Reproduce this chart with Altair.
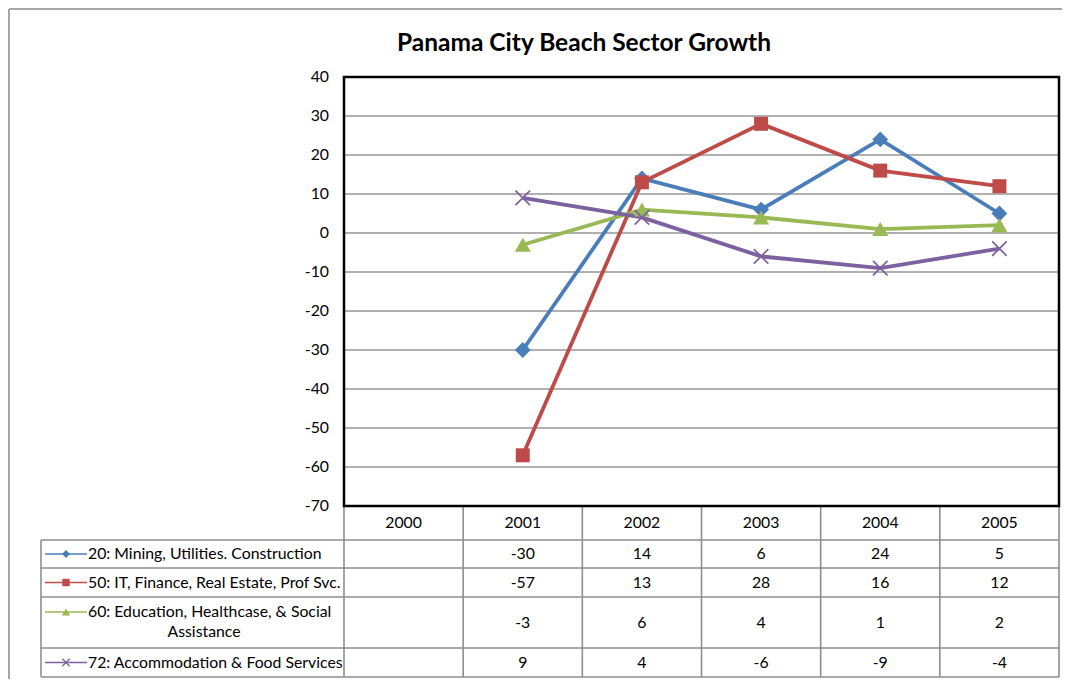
import altair as alt
import pandas as pd

# ---------------- data ----------------
years = [2000, 2001, 2002, 2003, 2004, 2005]
series_names = [
    "20: Mining, Utilities. Construction",
    "50: IT, Finance, Real Estate, Prof Svc.",
    "60: Education, Healthcase, & Social Assistance",
    "72: Accommodation & Food Services",
]
mining = [None, -30, 14, 6, 24, 5]
it_finance = [None, -57, 13, 28, 16, 12]
education = [None, -3, 6, 4, 1, 2]
accommodation = [None, 9, 4, -6, -9, -4]
y_ticks = [40, 30, 20, 10, 0, -10, -20, -30, -40, -50, -60, -70]
title_text = "Panama City Beach Sector Growth"

series_values = [mining, it_finance, education, accommodation]
colors = ["#4A7EBB", "#BE4B48", "#98B954", "#7D60A0"]
XSHAPE = "M-1,-1L1,1M-1,1L1,-1"
shapes = ["diamond", "square", "triangle-up", XSHAPE]
filled = [True, True, True, False]
big_sizes = [250, 195, 260, 210]
small_sizes = [64, 55, 70, 55]

# ---------------- layout (page pixels -> data units) ----------------
W, H = 1054, 671
PLOT_L, PLOT_R = 344, 1059
PLOT_T, PLOT_B = 77, 506
Y_MAX, Y_MIN = 40, -70
COL_W = (PLOT_R - PLOT_L) / 6
PX_PER = (PLOT_B - PLOT_T) / (Y_MAX - Y_MIN)


def u(px):
    return (px - PLOT_L) / COL_W


def v(py):
    return Y_MAX - (py - PLOT_T) / PX_PER


xdom = [u(8), u(8 + W)]
ydom = [v(8 + H), v(8)]
XS = alt.Scale(domain=xdom, nice=False, zero=False)
YS = alt.Scale(domain=ydom, nice=False, zero=False)

FONT = "Lato"
TXT = 15.8

# table geometry
row_bounds = [540, 568, 597, 648, 677]
TABLE_L = 41


def X(f="x"):
    return alt.X(f"{f}:Q", scale=XS, axis=None)


def Y(f="y"):
    return alt.Y(f"{f}:Q", scale=YS, axis=None)


layers = []

# gridlines
grid_df = pd.DataFrame({"y": y_ticks, "x": 0.0, "x2": 6.0})
layers.append(
    alt.Chart(grid_df).mark_rule(color="#969696", strokeWidth=1.4).encode(
        x=X(), x2="x2:Q", y=Y()
    )
)

# table lines
segs = []
for i in range(7):
    segs.append(dict(x=float(i), x2=float(i), y=v(PLOT_B), y2=v(row_bounds[-1])))
segs.append(dict(x=u(TABLE_L), x2=u(TABLE_L), y=v(row_bounds[0]), y2=v(row_bounds[-1])))
for rb in row_bounds:
    segs.append(dict(x=u(TABLE_L), x2=6.0, y=v(rb), y2=v(rb)))
seg_df = pd.DataFrame(segs)
layers.append(
    alt.Chart(seg_df).mark_rule(color="#8E8E8E", strokeWidth=1.6).encode(
        x=X(), x2="x2:Q", y=Y(), y2="y2:Q"
    )
)

# outer border (top & left)
border_df = pd.DataFrame(
    [
        dict(x=u(9), x2=u(8 + W), y=v(9), y2=v(9)),
        dict(x=u(9), x2=u(9), y=v(9), y2=v(8 + H)),
    ]
)
layers.append(
    alt.Chart(border_df).mark_rule(color="#A6A6A6", strokeWidth=2).encode(
        x=X(), x2="x2:Q", y=Y(), y2="y2:Q"
    )
)

# frame
frame_df = pd.DataFrame([dict(x=0.0, x2=6.0, y=float(Y_MIN), y2=float(Y_MAX))])
layers.append(
    alt.Chart(frame_df).mark_rect(fill=None, stroke="black", strokeWidth=2.5).encode(
        x=X(), x2="x2:Q", y=Y(), y2="y2:Q"
    )
)

# y tick labels
tick_df = pd.DataFrame({"y": y_ticks, "x": u(329), "t": [str(t) for t in y_ticks]})
layers.append(
    alt.Chart(tick_df).mark_text(align="right", baseline="middle", font=FONT, fontSize=TXT, color="black").encode(
        x=X(), y=Y(), text="t:N"
    )
)

# header years
hdr_df = pd.DataFrame({"x": [i + 0.5 for i in range(len(years))], "y": v(523), "t": [str(yv) for yv in years]})
layers.append(
    alt.Chart(hdr_df).mark_text(align="center", baseline="middle", font=FONT, fontSize=TXT, color="black").encode(
        x=X(), y=Y(), text="t:N"
    )
)

# table values
row_centers = [(row_bounds[k] + row_bounds[k + 1]) / 2 for k in range(4)]
cells = []
for k, vals in enumerate(series_values):
    for i, val in enumerate(vals):
        if val is not None:
            cells.append(dict(x=i + 0.5, y=v(row_centers[k]), t=str(val)))
cell_df = pd.DataFrame(cells)
layers.append(
    alt.Chart(cell_df).mark_text(align="center", baseline="middle", font=FONT, fontSize=TXT, color="black").encode(
        x=X(), y=Y(), text="t:N"
    )
)

# row labels (with legend keys)
label_y = [row_centers[0], row_centers[1], 612, row_centers[3]]
lab_rows = []
for k, name in enumerate(series_names):
    if k == 2:
        first, second = "60: Education, Healthcase, & Social", "Assistance"
        lab_rows.append(dict(x=u(88), y=v(612), t=first, a="left"))
        lab_rows.append(dict(x=u(204), y=v(632), t=second, a="center"))
    else:
        lab_rows.append(dict(x=u(88), y=v(label_y[k]), t=name, a="left"))
lab_left = pd.DataFrame([r for r in lab_rows if r["a"] == "left"])
lab_center = pd.DataFrame([r for r in lab_rows if r["a"] == "center"])
layers.append(
    alt.Chart(lab_left).mark_text(align="left", baseline="middle", font=FONT, fontSize=TXT, color="black").encode(
        x=X(), y=Y(), text="t:N"
    )
)
layers.append(
    alt.Chart(lab_center).mark_text(align="center", baseline="middle", font=FONT, fontSize=TXT, color="black").encode(
        x=X(), y=Y(), text="t:N"
    )
)

for k in range(4):
    key_line = pd.DataFrame([dict(x=u(45), x2=u(87), y=v(label_y[k]))])
    layers.append(
        alt.Chart(key_line).mark_rule(color=colors[k], strokeWidth=1.5).encode(x=X(), x2="x2:Q", y=Y())
    )
    key_pt = pd.DataFrame([dict(x=u(66), y=v(label_y[k]))])
    if filled[k]:
        pm = alt.Chart(key_pt).mark_point(shape=shapes[k], filled=True, size=small_sizes[k], color=colors[k], opacity=1)
    else:
        pm = alt.Chart(key_pt).mark_point(shape=shapes[k], filled=False, size=small_sizes[k], color=colors[k], strokeWidth=1.3, opacity=1)
    layers.append(pm.encode(x=X(), y=Y()))

# series lines & markers
for k, vals in enumerate(series_values):
    rows = [dict(x=i + 0.5, y=val, s=series_names[k]) for i, val in enumerate(vals) if val is not None]
    sdf = pd.DataFrame(rows)
    layers.append(
        alt.Chart(sdf).mark_line(color=colors[k], strokeWidth=3.8).encode(x=X(), y=Y())
    )
for k, vals in enumerate(series_values):
    rows = [dict(x=i + 0.5, y=val) for i, val in enumerate(vals) if val is not None]
    sdf = pd.DataFrame(rows)
    if filled[k]:
        pm = alt.Chart(sdf).mark_point(shape=shapes[k], filled=True, size=big_sizes[k], color=colors[k], opacity=1)
    else:
        pm = alt.Chart(sdf).mark_point(shape=shapes[k], filled=False, size=big_sizes[k], color=colors[k], strokeWidth=1.7, opacity=1)
    layers.append(pm.encode(x=X(), y=Y()))

# title
title_df = pd.DataFrame([dict(x=u(584), y=v(43.5), t=title_text)])
layers.append(
    alt.Chart(title_df).mark_text(align="center", baseline="middle", font=FONT, fontSize=24.5, fontWeight="bold", color="black").encode(
        x=X(), y=Y(), text="t:N"
    )
)

chart = (
    alt.layer(*layers)
    .properties(width=W, height=H, autosize=alt.AutoSizeParams(type="none"), padding=0)
    .configure_view(stroke=None)
)

chart.save("out.html", embed_options={"renderer": "svg", "actions": False})
